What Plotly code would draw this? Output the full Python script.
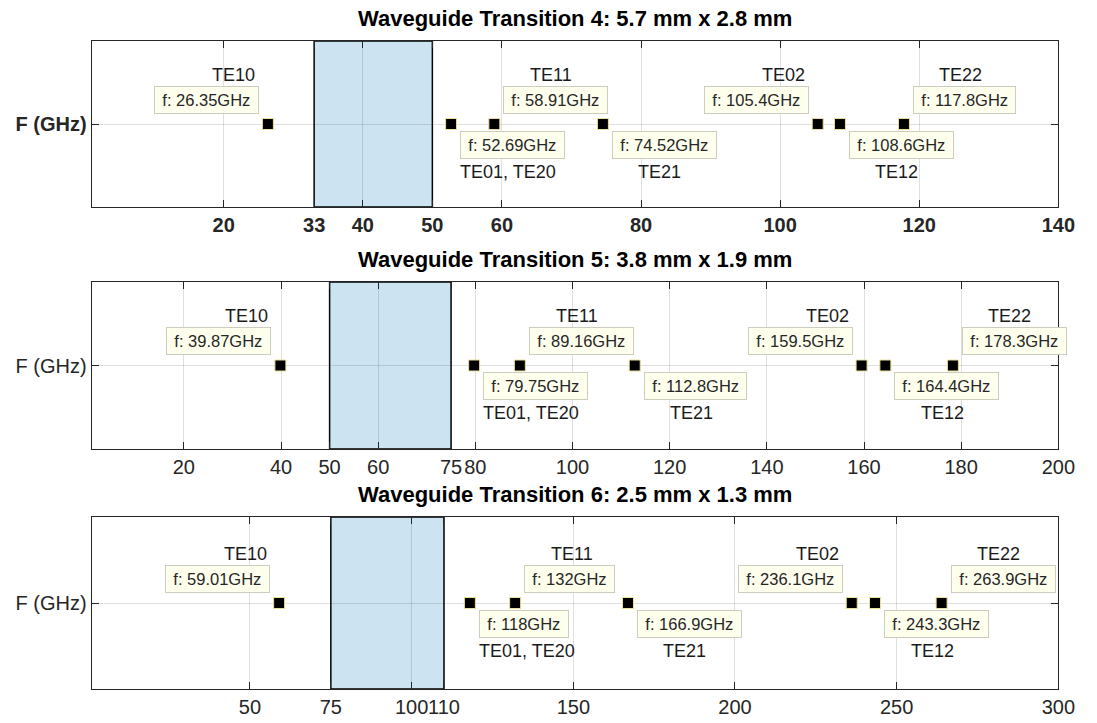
import plotly.graph_objects as go

# ---- data -------------------------------------------------------------
titles = [
    "Waveguide Transition 4: 5.7 mm x 2.8 mm",
    "Waveguide Transition 5: 3.8 mm x 1.9 mm",
    "Waveguide Transition 6: 2.5 mm x 1.3 mm",
]
mode_names = ["TE10", "TE01, TE20", "TE11", "TE21", "TE02", "TE12", "TE22"]

cutoff_wg4 = [26.35, 52.69, 58.91, 74.52, 105.4, 108.6, 117.8]
cutoff_wg5 = [39.87, 79.75, 89.16, 112.8, 159.5, 164.4, 178.3]
cutoff_wg6 = [59.01, 118, 132, 166.9, 236.1, 243.3, 263.9]

band_wg4 = [33, 50]
band_wg5 = [50, 75]
band_wg6 = [75, 110]

xmax_wg4 = 140
xmax_wg5 = 200
xmax_wg6 = 300

ticks_wg4 = [20, 33, 40, 50, 60, 80, 100, 120, 140]
ticks_wg5 = [20, 40, 50, 60, 75, 80, 100, 120, 140, 160, 180, 200]
ticks_wg6 = [50, 75, 100, 110, 150, 200, 250, 300]

# ---- styling ----------------------------------------------------------
FONT = "Liberation Sans, Arial, Helvetica, sans-serif"
INK = "#262626"
GRID = "rgba(38,38,38,0.15)"
BAND_FILL = "rgb(204,227,241)"
TIP_BG = "rgb(255,255,238)"
TIP_EDGE = "rgb(205,205,190)"

W, H = 1097, 723
AX_LEFT, AX_RIGHT = 93, 1075
# (top, bottom) pixel rows of each axes box
rows_px = [(41, 207), (282, 449), (517, 689)]

# datatip side for each mode: ul = up-left, ur = up-right, lr = low-right
tip_side = ["ul", "lr", "ur", "lr", "ul", "lr", "ur"]

panels = [
    (cutoff_wg4, band_wg4, xmax_wg4, ticks_wg4, True),
    (cutoff_wg5, band_wg5, xmax_wg5, ticks_wg5, False),
    (cutoff_wg6, band_wg6, xmax_wg6, ticks_wg6, False),
]

fig = go.Figure()
annotations = []
shapes = []
layout_axes = {}

for i, (freqs, band, xmax, ticks, bold) in enumerate(panels):
    n = "" if i == 0 else str(i + 1)
    xa, ya = "x" + n, "y" + n
    top, bot = rows_px[i]
    ydom = [1 - bot / H, 1 - top / H]
    weight = "bold" if bold else "normal"

    fig.add_trace(go.Scatter(
        x=freqs, y=[0] * len(freqs), xaxis=xa, yaxis=ya,
        mode="markers",
        marker=dict(symbol="square", size=11, color="black",
                    line=dict(color="rgb(235,225,150)", width=1)),
        hoverinfo="skip", showlegend=False,
    ))

    layout_axes["xaxis" + n] = dict(
        domain=[AX_LEFT / W, AX_RIGHT / W], anchor=ya,
        range=[1, xmax], tickmode="array", tickvals=ticks,
        ticktext=[str(t) for t in ticks], tickangle=0,
        ticks="inside", ticklen=7, tickwidth=1, tickcolor=INK,
        showline=True, linecolor=INK, linewidth=1, mirror="ticks",
        showgrid=True, gridcolor=GRID, gridwidth=1, zeroline=False,
        tickfont=dict(family=FONT, size=20, color=INK, weight=weight),
        fixedrange=True,
    )
    layout_axes["yaxis" + n] = dict(
        domain=ydom, anchor=xa, range=[-1, 1],
        tickmode="array", tickvals=[0], ticktext=["F (GHz)"],
        ticks="inside", ticklen=7, tickwidth=1, tickcolor=INK,
        showline=True, linecolor=INK, linewidth=1, mirror="ticks",
        showgrid=True, gridcolor=GRID, gridwidth=1, zeroline=False,
        tickfont=dict(family=FONT, size=20, color=INK, weight=weight),
        fixedrange=True,
    )

    # shaded operating band
    shapes.append(dict(
        type="rect", xref=xa, yref=ya + " domain",
        x0=band[0], x1=band[1], y0=0, y1=1,
        fillcolor=BAND_FILL, line=dict(color="black", width=1.5),
        layer="below",
    ))

    # panel title
    annotations.append(dict(
        text="<b>" + titles[i] + "</b>", xref="paper", yref="paper",
        x=(AX_LEFT + AX_RIGHT) / 2 / W, y=ydom[1], yshift=8,
        xanchor="center", yanchor="bottom", showarrow=False,
        font=dict(family=FONT, size=22, color="black"),
    ))

    for f, name, side in zip(freqs, mode_names, tip_side):
        if side == "ul":
            tip_pos = dict(xanchor="right", xshift=-9, yanchor="bottom", yshift=10)
            lab_pos = dict(xshift=-34, yshift=49)
        elif side == "ur":
            tip_pos = dict(xanchor="left", xshift=9, yanchor="bottom", yshift=10)
            lab_pos = dict(xshift=57, yshift=49)
        else:
            tip_pos = dict(xanchor="left", xshift=9, yanchor="top", yshift=-7)
            lab_pos = dict(xshift=57, yshift=-48)
        # datatip box
        annotations.append(dict(
            text="\u2009f: %sGHz\u2009" % format(f, ".4g"),
            xref=xa, yref=ya, x=f, y=0, showarrow=False,
            bgcolor=TIP_BG, bordercolor=TIP_EDGE, borderwidth=1, borderpad=4,
            font=dict(family=FONT, size=16.5, color=INK), **tip_pos,
        ))
        # mode name
        annotations.append(dict(
            text=name, xref=xa, yref=ya, x=f, y=0, showarrow=False,
            xanchor="center", yanchor="middle",
            font=dict(family=FONT, size=18, color="#1a1a1a"), **lab_pos,
        ))

fig.update_layout(
    width=W, height=H, margin=dict(l=0, r=0, t=0, b=0),
    paper_bgcolor="white", plot_bgcolor="white",
    showlegend=False, shapes=shapes, annotations=annotations,
    **layout_axes,
)

fig.write_html("out.html")
